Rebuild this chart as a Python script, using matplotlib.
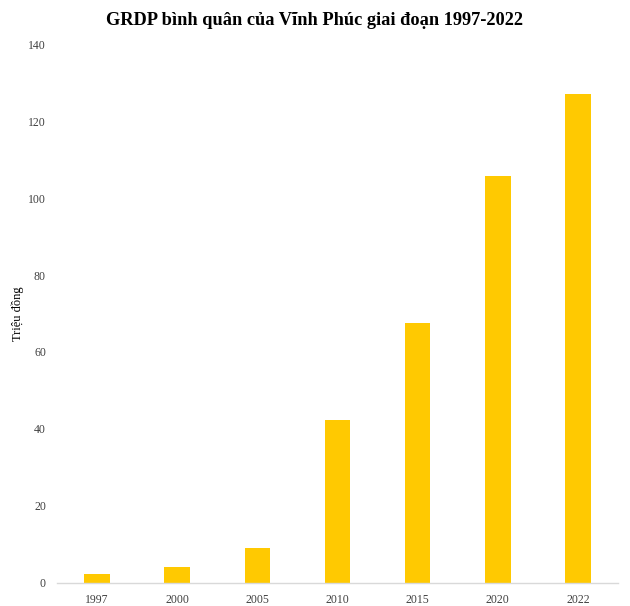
import matplotlib.pyplot as plt

# ---------- data ----------
years = ["1997", "2000", "2005", "2010", "2015", "2020", "2022"]
grdp = [2.2, 4.0, 9.1, 42.3, 67.4, 105.7, 127.0]
y_ticks = [0, 20, 40, 60, 80, 100, 120, 140]

plt.rcParams['font.family'] = ['Liberation Serif', 'DejaVu Serif']

fig = plt.figure(figsize=(6.3, 6.06), dpi=100)
ax = fig.add_axes([0.0905, 0.0384, 0.8905, 0.8886])

x = range(len(years))
ax.bar(x, grdp, width=0.32, color="#FFC901")

ax.set_xlim(-0.5, len(years) - 0.5)
ax.set_ylim(0, 140)
ax.set_yticks(y_ticks)
ax.set_xticks(list(x))
ax.set_xticklabels(years)
ax.tick_params(axis="both", length=0, labelsize=8.5, colors="#404040")
ax.tick_params(axis="x", pad=8)
ax.tick_params(axis="y", pad=8)

for s in ["top", "right", "left"]:
    ax.spines[s].set_visible(False)
ax.spines["bottom"].set_color("#D9D9D9")
ax.spines["bottom"].set_linewidth(1.0)

ax.set_ylabel("Triệu đồng", fontsize=9, color="#000000")
ax.yaxis.set_label_coords(-0.059, 0.5)
fig.suptitle("GRDP bình quân của Vĩnh Phúc giai đoạn 1997-2022",
             fontsize=13.2, fontweight="bold", x=0.5, y=0.98)

fig.savefig("out.png", dpi=100, facecolor="white")
